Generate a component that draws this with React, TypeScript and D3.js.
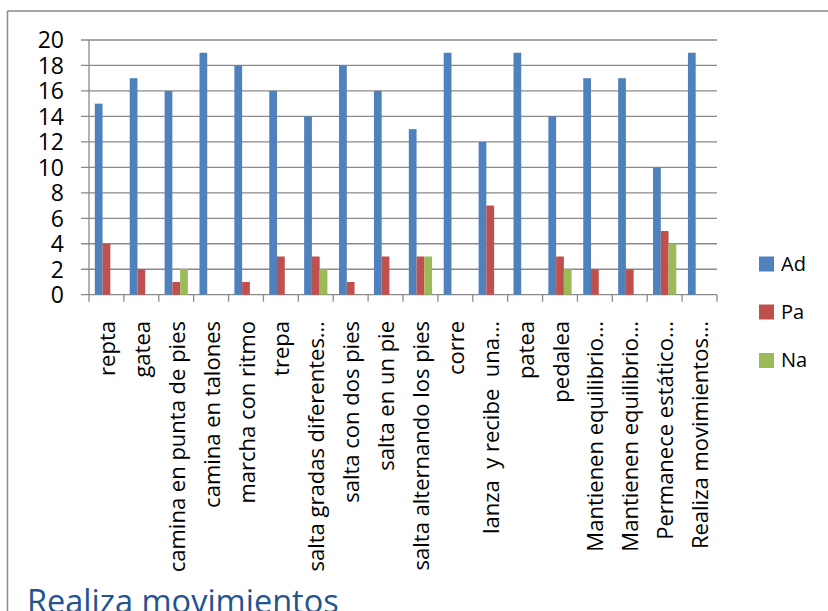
import React from "react";
import * as d3 from "d3";

const categories = [
  "repta",
  "gatea",
  "camina en punta de pies",
  "camina en talones",
  "marcha con ritmo",
  "trepa",
  "salta gradas diferentes…",
  "salta con dos pies",
  "salta en un pie",
  "salta alternando los pies",
  "corre",
  "lanza  y recibe  una…",
  "patea",
  "pedalea",
  "Mantienen equilibrio…",
  "Mantienen equilibrio…",
  "Permanece estático…",
  "Realiza movimientos…",
];

const seriesNames = ["Ad", "Pa", "Na"];
const adValues = [15, 17, 16, 19, 18, 16, 14, 18, 16, 13, 19, 12, 19, 14, 17, 17, 10, 19];
const paValues = [4, 2, 1, 0, 1, 3, 3, 1, 3, 3, 0, 7, 0, 3, 2, 2, 5, 0];
const naValues = [0, 0, 2, 0, 0, 0, 2, 0, 0, 3, 0, 0, 0, 2, 0, 0, 4, 0];
const seriesColors = ["#4F81BD", "#C0504D", "#9BBB59"];
const yTicks = [0, 2, 4, 6, 8, 10, 12, 14, 16, 18, 20];
const chartTitle = "Realiza movimientos";

const W = 828;
const H = 611;
const FONT = "'Open Sans', sans-serif";

export default function App() {
  const left = 89;
  const right = 717;
  const top = 40;
  const bottom = 294.7;

  const idx = categories.map((_, i) => i);
  const x = d3.scaleBand<number>().domain(idx).range([left, right]).padding(0);
  const xs = d3
    .scaleBand<string>()
    .domain(seriesNames)
    .range([0, x.bandwidth()])
    .paddingInner(0)
    .paddingOuter(0.75);
  const y = d3.scaleLinear().domain([0, 20]).range([bottom, top]);

  const allSeries = [adValues, paValues, naValues];
  const gridColor = "#8a8a8a";

  const boundaries = d3.range(categories.length + 1).map((i) => left + i * x.step());

  return (
    <svg
      width={W}
      height={H}
      style={{ position: "absolute", left: 0, top: 0, background: "#fff" }}
      fontFamily={FONT}
    >
      <rect x={0} y={0} width={W} height={H} fill="#fff" />
      {/* outer frame */}
      <line x1={7.5} x2={7.5} y1={11} y2={H} stroke={gridColor} strokeWidth={1.5} />
      <line x1={7.5} x2={W} y1={11} y2={11} stroke={gridColor} strokeWidth={1.5} />

      {/* gridlines + y ticks */}
      {yTicks.map((t) => (
        <g key={t}>
          <line x1={left - 8} x2={right} y1={y(t)} y2={y(t)} stroke={gridColor} strokeWidth={1.3} />
          <text
            x={64}
            y={y(t)}
            dy="0.36em"
            textAnchor="end"
            fontSize={23}
            fill="#000"
          >
            {t}
          </text>
        </g>
      ))}
      {/* y axis */}
      <line x1={left} x2={left} y1={top} y2={bottom} stroke={gridColor} strokeWidth={1.3} />
      {/* x axis ticks */}
      {boundaries.map((bx, i) => (
        <line key={i} x1={bx} x2={bx} y1={bottom} y2={bottom + 7} stroke={gridColor} strokeWidth={1.3} />
      ))}

      {/* bars */}
      {allSeries.map((vals, si) =>
        vals.map((v, ci) =>
          v > 0 ? (
            <rect
              key={`${si}-${ci}`}
              x={(x(ci) as number) + (xs(seriesNames[si]) as number)}
              y={y(v)}
              width={xs.bandwidth()}
              height={y(0) - y(v)}
              fill={seriesColors[si]}
            />
          ) : null
        )
      )}

      {/* category labels */}
      {categories.map((c, i) => {
        const cx = (x(i) as number) + x.bandwidth() / 2 + 8.5;
        const cy = 321;
        return (
          <text
            key={i}
            transform={`translate(${cx},${cy}) rotate(-90)`}
            textAnchor="end"
            fontSize={22}
            fill="#000"
            style={{ whiteSpace: "pre" }}
          >
            {c}
          </text>
        );
      })}

      {/* legend */}
      {seriesNames.map((s, i) => {
        const ly = [256.5, 304.5, 353][i];
        return (
          <g key={s}>
            <rect x={759} y={ly} width={15} height={15} fill={seriesColors[i]} />
            <text x={781} y={ly + 14.3} fontSize={20} fill="#000">
              {s}
            </text>
          </g>
        );
      })}

      {/* title */}
      <text x={27} y={612.5} fontSize={32.5} fill="#24548E">
        {chartTitle}
      </text>
    </svg>
  );
}
